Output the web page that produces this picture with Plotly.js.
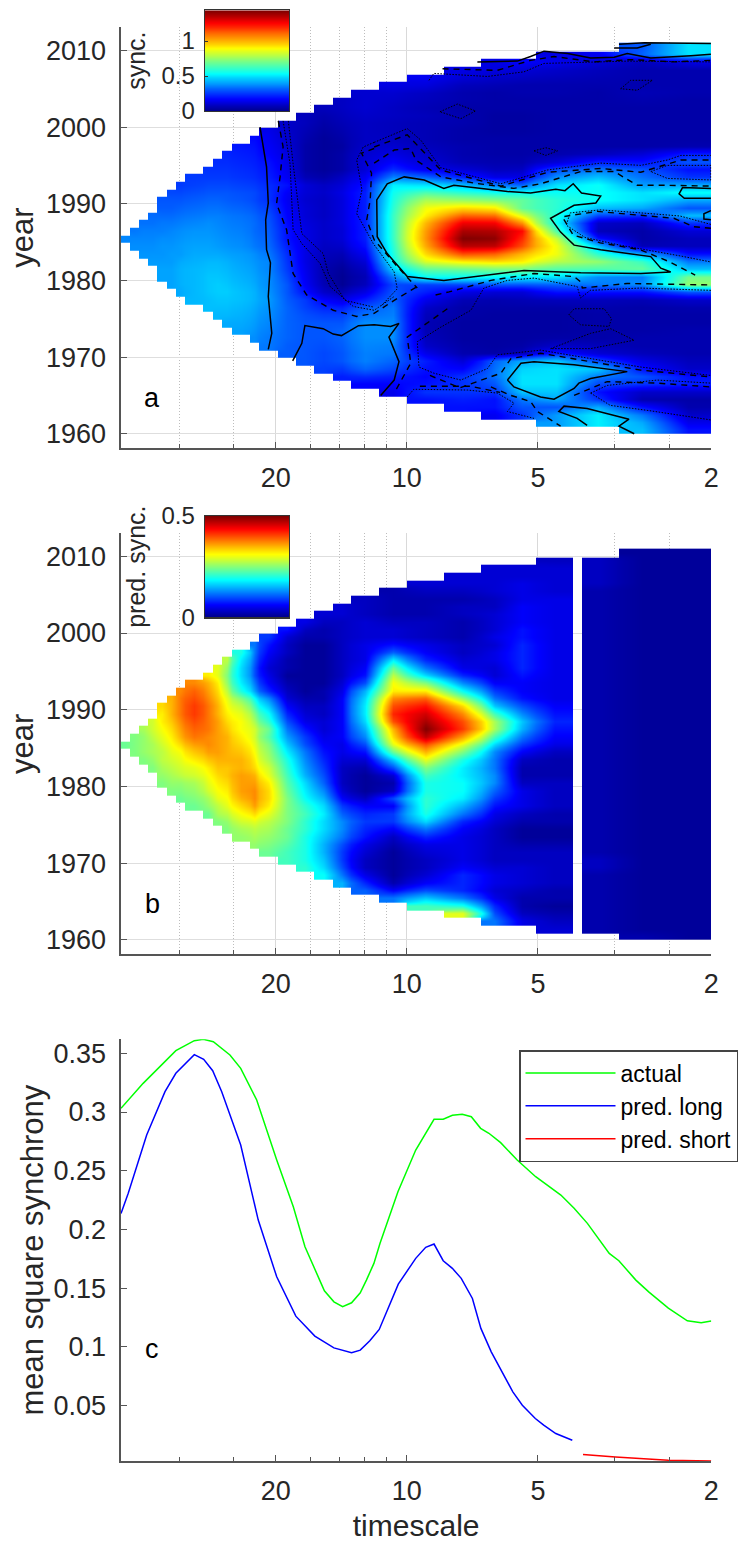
<!DOCTYPE html>
<html><head><meta charset="utf-8">
<script src="https://cdn.plot.ly/plotly-3.0.1.min.js"></script>
<style>html,body{margin:0;padding:0;background:#fff}#chart{width:748px;height:1542px}</style>
</head><body><div id="chart"></div>
<script>
// timescale (years): cell edges of the wavelet grid
const timescaleEdgesA=[45.3,43.2,41.1,39.2,37.4,35.6,33.9,32.3,29.3,27.9,26.5,25.2,22.9,21.8,19.8,17.96,16.31,14.79,13.41,11.59,9.99,8.23,6.77,5.86,5.05,4.07,3.26,2.55,2.0];
const timescaleEdgesB=[45.3,43.2,41.1,39.2,37.4,35.6,33.9,32.3,29.3,27.9,26.5,25.2,22.9,21.8,19.8,17.96,16.31,14.79,13.41,11.59,9.99,8.23,6.77,5.86,5.05,4.15,3.96,3.26,2.55,2.0];
const yearEdges=[];for(let y=1960;y<=2011;y++)yearEdges.push(y);
// synchrony x100, one row per year from 2010 down to 1960, cells listed up to timescale 2
const syncRows=[
[30,50],
[14,16,32,50],
[14,18,15,12,8,14],
[14,13,12,10,8,6,6],
[16,12,10,9,8,7,6,6],
[14,13,8,7,6,6,6,6,6],
[11,11,9,6,5,6,6,5,7,6],
[9,11,10,8,6,5,5,5,5,6,5],
[8,9,11,9,7,5,5,5,5,5,5,5],
[8,6,8,10,9,8,6,4,4,5,5,5,5],
[10,8,5,7,9,8,7,6,4,4,5,5,5,5],
[15,10,7,4,6,9,8,7,5,4,4,5,5,5,5],
[19,16,11,6,3,5,9,9,7,5,5,5,5,5,5,5],
[21,20,17,12,5,3,4,10,11,8,6,5,5,5,5,5,6],
[23,22,21,18,13,5,3,5,11,14,10,6,5,5,6,8,12,22],
[24,24,23,22,20,14,5,3,5,12,18,12,7,6,6,12,22,20,30],
[25,25,25,24,23,21,15,5,3,5,12,24,16,12,8,9,28,35,30,20],
[26,26,26,26,25,24,22,16,7,5,9,16,36,32,22,14,14,38,45,34,25],
[26,27,28,28,28,27,26,24,20,12,9,12,20,52,50,45,35,32,50,55,40,42],
[28,28,29,30,30,30,29,28,25,17,12,10,14,22,56,65,60,56,55,55,55,50,55],
[30,30,30,31,32,32,31,30,28,25,16,11,9,13,22,58,78,75,72,68,60,55,50,42],
[31,31,32,33,34,34,33,32,30,27,17,12,9,13,22,60,88,95,92,68,60,45,42,30],
[33,33,33,34,35,36,36,35,34,32,29,18,12,9,13,22,62,92,112,110,85,58,28,25,45],
[34,34,35,35,36,37,38,37,36,35,33,30,19,13,10,13,22,62,100,128,127,105,55,10,8,25],
[35,36,36,36,37,38,39,39,38,37,36,33,31,20,14,10,12,22,62,104,138,137,125,65,8,5,12],
[37,37,37,37,38,38,39,40,40,39,38,37,34,32,20,14,10,12,22,62,105,144,142,120,82,20,5,8],
[38,38,38,39,39,40,41,41,40,39,38,35,33,22,14,9,10,20,60,102,136,135,115,88,45,7,8],
[39,39,39,40,40,42,42,42,41,40,38,35,24,14,8,7,16,58,95,115,112,100,88,60,42,20],
[40,40,40,42,43,44,44,43,41,39,37,25,14,7,5,12,55,85,92,95,92,80,75,62,35],
[41,41,43,44,45,45,44,42,40,37,26,15,6,3,9,48,68,70,72,72,66,65,68,45],
[41,41,43,44,46,46,45,43,41,38,28,16,6,2,7,36,55,55,54,52,50,38,36,70],
[41,43,44,46,47,46,44,42,38,30,17,7,2,8,28,27,28,30,30,32,35,38,75],
[42,44,46,47,47,45,43,39,30,20,10,6,14,30,22,14,12,12,20,20,20,30],
[44,45,46,46,45,43,40,31,26,18,14,22,32,15,7,6,7,8,8,7,10],
[45,45,45,44,42,39,32,27,23,22,30,35,10,5,5,5,5,6,5,6],
[44,44,43,41,38,32,29,27,27,34,36,8,5,4,4,4,5,5,5],
[42,42,40,37,32,30,30,30,38,38,7,4,4,4,4,5,5,5],
[41,39,36,32,30,30,32,38,38,7,4,4,4,4,5,5,6],
[38,35,32,30,30,32,38,38,8,4,4,4,5,5,6,6],
[35,31,30,29,31,37,36,10,5,4,5,10,8,6,6],
[31,30,28,30,36,35,15,6,5,8,22,12,8,6],
[30,28,30,36,32,22,12,32,42,46,28,14,8],
[27,26,32,28,20,18,34,48,50,46,20,10],
[22,24,22,18,25,34,50,50,35,30,20],
[18,18,20,25,30,50,50,28,25,22],
[15,25,25,25,46,46,20,10,10],
[20,22,20,35,42,25,6,5],
[20,20,30,30,42,20,6],
[16,25,40,52,35,10],
[40,52,42,15],
[45,20]];
// predicted synchrony x100, same layout
const predRows=[
[1,1],
[3,3,1,1],
[4,4,4,3,1,1],
[4,4,4,4,3,1,1],
[4,4,4,5,4,3,1,1],
[2,3,3,4,5,4,2,1,1],
[3,2,2,2,3,5,5,2,1,1],
[4,3,2,2,3,3,6,5,2,1,1],
[4,4,3,2,2,3,4,6,5,2,1,1],
[5,3,3,4,3,3,2,4,6,5,2,1,1],
[7,3,2,3,4,4,3,2,4,7,5,2,1,1],
[9,4,2,2,3,4,4,3,2,5,7,5,2,1,1],
[12,7,3,1,1,3,5,7,5,3,4,8,5,2,1,1],
[20,12,6,3,1,1,3,5,11,6,3,5,8,5,2,1,1],
[28,18,11,5,2,1,1,3,5,18,8,4,5,8,5,2,1,1],
[30,26,17,10,4,2,1,1,3,6,24,12,5,4,8,5,2,1,1],
[32,30,25,17,10,5,1,1,1,3,7,28,17,8,4,7,5,2,1,1],
[37,35,32,26,18,12,6,2,1,1,4,10,31,25,13,6,6,5,2,1,1],
[37,39,36,33,28,20,14,8,3,1,2,5,15,32,32,19,9,6,5,2,1,1],
[35,38,40,37,34,30,25,19,13,4,2,2,6,17,37,39,26,12,7,5,2,1,1],
[33,35,38,41,38,35,31,28,22,16,6,3,3,6,18,40,43,33,16,10,6,2,1,1],
[32,35,38,41,38,35,32,30,25,19,8,4,3,6,18,42,46,37,22,13,7,2,1,1],
[29,32,34,37,40,38,36,33,31,27,21,10,5,4,6,17,40,48,40,27,16,8,2,1,1],
[27,29,31,33,36,39,38,36,34,31,29,24,12,7,4,6,15,35,50,41,27,15,7,2,1,1],
[25,26,28,30,32,35,38,37,36,35,32,29,23,14,9,5,6,13,33,47,36,22,12,6,2,1,1],
[24,25,26,27,29,31,33,36,37,36,35,33,30,25,16,10,6,5,10,30,40,30,17,9,5,2,1,1],
[25,26,27,28,30,31,34,36,36,35,34,31,26,18,12,7,5,7,24,35,25,13,6,3,2,1,1],
[25,26,28,29,30,32,34,35,35,35,32,27,20,13,8,4,4,16,30,20,12,3,2,2,1,1],
[25,27,28,29,30,32,34,34,35,33,29,21,14,9,3,2,10,25,18,12,2,2,2,1,1],
[26,27,28,29,31,33,34,36,35,30,22,15,10,3,1,4,22,18,13,2,2,2,1,1],
[25,26,26,27,30,32,33,36,36,32,23,17,11,3,1,2,20,19,13,3,3,2,1,1],
[25,25,26,29,31,32,36,37,33,24,18,13,4,1,3,20,19,11,5,3,2,1,1],
[24,25,27,30,31,35,37,33,25,19,15,6,3,10,21,18,9,5,3,2,1,1],
[24,26,28,30,33,36,32,25,21,17,9,6,6,21,15,7,5,3,2,1,1],
[24,27,28,31,33,30,25,22,18,11,8,9,20,12,5,3,2,2,1,1],
[25,26,29,30,28,25,21,17,13,9,9,17,8,4,2,2,2,1,1],
[25,27,28,27,24,21,17,13,8,6,12,6,3,1,1,2,1,1],
[26,27,26,24,20,16,12,7,3,8,5,3,1,1,2,1,1],
[26,25,23,20,15,10,5,2,5,5,3,2,2,2,1,1],
[24,22,20,15,9,4,1,4,5,3,3,3,2,1,1],
[22,20,16,9,3,1,3,5,3,3,3,3,1,1],
[21,17,10,3,1,3,6,4,4,3,3,1,1],
[19,12,5,1,4,8,5,4,3,2,1,1],
[15,8,2,6,8,5,4,3,2,1,1],
[11,6,10,8,4,3,2,2,1,1],
[12,16,12,5,2,2,2,1,1],
[22,20,8,2,1,2,1,1],
[30,10,3,2,2,1,1],
[12,5,3,2,1,1],
[4,2,1,1],
[2,1]];
// significance contours: [100*log10(timescale), year]
const contoursSolid=[
[[133.7,2000],[132.2,1994.8],[131.8,1990.1],[132.4,1987.9],[132.2,1984],[131.3,1982.3],[131.8,1977.9],[131,1973.1],[131.8,1971]],
[[126.2,1969.5],[124.1,1971.8],[123.4,1974.1],[119.2,1973.7],[116.9,1973],[115,1972.8],[111.1,1974.1],[107.5,1974.2],[103.7,1974],[101.8,1974.4],[104.1,1972.6],[101.8,1969.4],[102.9,1967],[106,1965]],
[[39.4,1981.1],[46.3,1980.9],[60.1,1981],[73.1,1981.3],[91.5,1980],[99.9,1980.5],[104.5,1983.5],[106.8,1985.7],[106.9,1990.5],[104.5,1992.6],[100.6,1993.5],[96,1993.1],[91.5,1992],[89.2,1992.4],[76.9,1991.6],[71.6,1991.4],[65.8,1991.9],[63.7,1991.7],[61.8,1992.6],[59.9,1991.4],[55.5,1991],[56.6,1990.1],[61.6,1989.8],[67,1988.1],[64.7,1986.3],[61.6,1984.6],[55.5,1984],[44,1983.1],[41.7,1981.6],[39.4,1981.1]],
[[76.9,1967],[73.8,1969.2],[70.8,1969.4],[61.6,1969],[49.4,1968.1],[57.8,1967.2],[60.5,1966.6],[61.6,1965.9],[66.2,1964.5],[69.3,1964.8],[75.4,1966.1],[76.9,1967]],
[[58.6,1961.1],[60.9,1962],[65.1,1962.9],[63.9,1963.6],[58.6,1963.3],[49,1961.9],[51.3,1961],[47.8,1960]],
[[51.3,2010.8],[45.5,2011],[30.2,2010.9]],
[[52.4,2010.3],[47.1,2010.3],[44,2010.8]],
[[30.2,2009.5],[34.8,2009.3],[44,2009],[49.4,2009.6],[52.4,2009.1],[57.8,2009],[63.1,2009.6],[68.5,2009.9],[71.6,2009.2],[74.6,2008.6],[83.8,2008.5]],
[[30.2,1992],[36.7,1992.1],[37.5,1991.3],[36.3,1990.7],[30.2,1990.7]],
[[30.2,1989.1],[31.8,1988.7],[31.8,1988],[30.2,1987.9]]];
const contoursDashed=[
[[129.5,2000.8],[128.4,1997.4],[129.1,1993.5],[129.9,1990],[127.6,1986.6],[126.1,1980.9],[123,1978.1],[116.9,1976.1],[111.5,1975.3],[107.5,1975.7],[102.9,1977.4],[97.6,1979.2]],
[[107.5,1995.3],[102.9,1997],[99.1,1997.2],[97.9,1995.7],[92.2,1993.5],[84.6,1992.7],[75.4,1992],[69.3,1992.6],[60.1,1994.2],[52.4,1994.2],[47.1,1992.4],[40.2,1992.4],[30.2,1992.3]],
[[107.5,1997.4],[99.9,1999],[92.2,1994.4],[78.4,1992.3],[67.7,1994.1],[55.5,1994.6],[46.3,1994.1],[37.1,1995.7],[30.2,1995.7]],
[[91.8,2007.6],[79.2,2007.4],[71.6,2008.7],[66.2,2009.2],[57,2008.5],[48.6,2008.8],[38.7,2008.5],[30.2,2008.7]],
[[30.2,1986.8],[34.1,1987],[38.7,1988.1],[46.3,1988.5],[56.3,1989],[64.3,1988.3],[61.8,1985.9],[55.6,1984.9],[46.4,1984],[39.6,1982.4],[33.8,1980.7]],
[[93.4,1978.1],[90.3,1978.5],[80.7,1980],[70.8,1980.9],[61.6,1980.5],[60.1,1979.8],[59.7,1979],[49.4,1979.6],[30.2,1979.4]],
[[90.7,1976.3],[97.6,1973.5],[99.9,1972.6],[99.1,1969.2],[102.5,1965.7]],
[[94.7,1967.6],[87.8,1966],[78.4,1967.9],[76.1,1969.8],[69.3,1970.5],[57.8,1969.4],[46.3,1968.3],[30.2,1967.4]],
[[61.6,1965],[54,1966.8],[42.5,1966.6],[30.2,1966.1]],
[[80.7,1966.1],[76.1,1965],[71.6,1964.2],[70,1962.9],[64.7,1961]],
[[97,1966.2],[85.5,1966.2],[78.6,1965.4]],
[[107.5,1997.2],[110.4,1996.6],[108.1,1994],[108.4,1990.5],[109.2,1987.9],[107.5,1985.3],[102.2,1981.8],[97.6,1979]]];
const contoursDotted=[
[[107.5,1998],[99.9,1999.8],[96.8,1998.3],[92.2,1994.7],[78.4,1992.6],[67.7,1994.4],[55.5,1995.3],[46.3,1995],[40.2,1995.7],[37.1,1996.3],[30.2,1996.3]],
[[94.9,2006.1],[93.8,2007],[81.5,2006.6],[73.1,2007.2],[68.5,2008.3],[49.4,2008.6],[30.2,2008.5]],
[[30.2,1987.3],[37.3,1988.4],[46.2,1988.8],[55.6,1989.2],[62.5,1988.8],[63.4,1987.2],[59.1,1985.6],[51.1,1984.6],[37.3,1983.2],[30.2,1982.4]],
[[30.2,1978.7],[46.4,1979],[57.9,1978.7],[60.1,1977.7],[60.9,1979.2],[70.8,1980.3],[76.9,1980],[82.3,1979],[85.3,1976.1],[92.2,1973.9],[97.6,1972],[97.2,1968.7],[93.8,1967.9],[87.6,1967],[81.5,1968.5],[79.2,1970.3],[69.3,1970.9],[57.8,1969.8],[46.3,1968.7],[30.2,1967.6]],
[[57.8,1965.3],[54,1966.3],[42.5,1967],[30.2,1966.6]],
[[57.8,1965.3],[53.3,1963.7],[44.2,1963],[30.2,1961.8]],
[[99.9,1964.8],[98.4,1965.8],[86.1,1965.7],[79.2,1965.3],[75.4,1964],[76.9,1962.9],[70.8,1962]],
[[92.4,2002],[88.4,2003],[84.2,2002.1],[87.6,2001.1],[92.4,2002]],
[[70.8,1996.9],[68.1,1997.3],[65.4,1996.9],[68.1,1996.3],[70.8,1996.9]],
[[50.9,2005],[48.6,2006.1],[43.6,2006.1],[47.1,2004.8],[50.9,2005]],
[[44,1994.2],[40.2,1995],[30.2,1995],[30.2,1993.1],[40.2,1993.3],[44,1994.2]],
[[62.8,1975.5],[61.6,1976.3],[54.7,1976.3],[53,1975],[53.6,1974],[60.1,1974.2],[62.8,1975.5]],
[[67,1971.1],[57.8,1973.1],[53.2,1973.7],[47.8,1972.2],[57.8,1971.1],[67,1971.1]],
[[128.4,2000.8],[126.8,1995.2],[126.1,1986.6],[124.1,1984.8],[119.9,1982.2],[117.6,1979.2],[112.3,1976.6],[107.5,1976.1],[102.9,1977.9]],
[[127.2,2000.8],[126.1,1995.2],[124.1,1986.1],[119.2,1983.5],[118,1980.9],[114.2,1977.4],[107.5,1976.5]],
[[107.5,1998],[110,1997.4],[111.5,1995.7],[110.3,1991.8],[111.5,1988.7],[107.7,1984.8],[102.9,1981.1],[102.2,1978.9],[106,1976.6]]];
// mean square synchrony
const actualX=[45.3,40.3,33.9,30.75,29.33,27.81,25.47,24.06,22.11,19.89,18.22,17.13,15.85,15.46,14.7,14.04,13.39,12.79,12.38,11.9,11.52,10.48,9.54,8.66,8.25,7.86,7.46,7.11,6.77,6.48,6.09,5.58,5.06,4.43,4.13,3.85,3.43,3.26,2.98,2.78,2.51,2.27,2.11,2];
const actualY=[.3031,.3244,.3522,.3607,.3619,.3599,.3486,.3372,.3102,.2591,.2193,.1853,.1569,.1478,.1384,.1342,.1376,.1461,.1569,.1711,.1882,.2321,.2676,.2938,.2938,.2972,.298,.296,.2861,.2819,.2739,.2591,.2449,.2293,.218,.2052,.1796,.1734,.1569,.1467,.133,.1222,.1205,.122];
const longX=[45.3,43.6,39.55,35.9,33.9,30.75,29.26,27.9,26.6,24.06,21.93,19.89,17.98,16.26,14.7,13.39,12.79,12.16,11.57,11,10.46,9.54,9.05,8.66,8.25,7.86,7.5,7.07,6.76,6.4,6.08,5.71,5.43,5.07,4.85,4.55,4.17];
const longY=[.2137,.2308,.2804,.3173,.333,.3488,.3449,.3352,.3173,.2719,.208,.1597,.1262,.1092,.0992,.095,.0973,.1052,.1149,.1342,.1535,.1754,.1848,.1876,.1734,.1669,.1584,.1413,.1158,.0958,.0802,.0618,.0504,.0391,.0334,.0263,.0206];
const shortX=[3.94,3.32,2.51,2];
const shortY=[.0084,.0063,.0036,.0029];
// tick labels
const yearTicks=[1960,1970,1980,1990,2000,2010];
const scaleTicks=[20,10,5,2];
const scaleMinorTicks=[33.33,25,16.67,14.29,12.5,11.11,3.33,2.5];
const synchronyTicks=[.05,.1,.15,.2,.25,.3,.35];
const synchronyLabels=['0.05','0.1','0.15','0.2','0.25','0.3','0.35'];
const barLevelsA=[0,.08,.16,.24,.32,.4,.48,.56,.64,.72,.8,.88,.96,1.04,1.12,1.2,1.28,1.36,1.44];
const barLevelsB=[0,.025,.05,.075,.1,.125,.15,.175,.2,.225,.25,.275,.3,.325,.35,.375,.4,.425,.45,.475,.5];

const jet=[[0,'rgb(0,0,135)'],[.125,'rgb(0,0,255)'],[.375,'rgb(0,255,255)'],[.625,'rgb(255,255,0)'],[.875,'rgb(255,0,0)'],[1,'rgb(128,0,0)']];
const W=748,H=1542;
const dx=[121/W,711.3/W];
const dy=(t,b)=>[(H-b)/H,(H-t)/H];
const padded=(rows,n)=>rows.slice().reverse().map(r=>Array(n-r.length).fill(null).concat(r.map(v=>v===null?null:v/100)));
const zA=padded(syncRows,28);
const zB=padded(predRows.map(r=>{const c=r.slice();if(c.length>=4)c.splice(c.length-3,0,null);return c;}),29);

const traces=[
 {type:'heatmap',x:timescaleEdgesA,y:yearEdges,z:zA,xaxis:'x',yaxis:'y',zmin:0,zmax:1.44,colorscale:jet,zsmooth:'best',showscale:false,hoverongaps:false},
 {type:'heatmap',x:timescaleEdgesB,y:yearEdges,z:zB,xaxis:'x2',yaxis:'y2',zmin:0,zmax:.5,colorscale:jet,zsmooth:'best',showscale:false,hoverongaps:false},
 {type:'heatmap',x:[0,1],y:barLevelsA,z:barLevelsA.map(v=>[v,v]),xaxis:'x4',yaxis:'y4',zmin:0,zmax:1.44,colorscale:jet,zsmooth:'best',showscale:false},
 {type:'heatmap',x:[0,1],y:barLevelsB,z:barLevelsB.map(v=>[v,v]),xaxis:'x5',yaxis:'y5',zmin:0,zmax:.5,colorscale:jet,zsmooth:'best',showscale:false}
];
const addContours=(lines,line)=>lines.forEach(p=>traces.push({type:'scatter',mode:'lines',xaxis:'x',yaxis:'y',showlegend:false,hoverinfo:'skip',
  x:p.map(q=>Math.pow(10,q[0]/100)),y:p.map(q=>q[1]),line:line}));
addContours(contoursSolid,{color:'#000',width:1.5});
addContours(contoursDashed,{color:'#000',width:1.4,dash:'6px,5px'});
addContours(contoursDotted,{color:'#000',width:1,dash:'1.5px,1.5px'});
traces.push({type:'scatter',mode:'lines',name:'actual',x:actualX,y:actualY,xaxis:'x3',yaxis:'y3',line:{color:'#00ff00',width:1.5}});
traces.push({type:'scatter',mode:'lines',name:'pred. long',x:longX,y:longY,xaxis:'x3',yaxis:'y3',line:{color:'#0000ff',width:1.5}});
traces.push({type:'scatter',mode:'lines',name:'pred. short',x:shortX,y:shortY,xaxis:'x3',yaxis:'y3',line:{color:'#ff0000',width:1.5},cliponaxis:false});

const FONT='"Liberation Sans",Arial,sans-serif',INK='#262626',AXIS='#555';
const xAxis=(yAnchor,grid,domainTitle)=>({type:'log',domain:dx,anchor:yAnchor,range:[Math.log10(45.3),Math.log10(2)],
  tickmode:'array',tickvals:scaleTicks,ticktext:scaleTicks.map(String),ticks:'inside',ticklen:6,tickcolor:AXIS,tickwidth:1,
  tickfont:{size:27,color:INK,family:FONT},ticklabelstandoff:5,
  showgrid:grid,gridcolor:'#d9d9d9',gridwidth:1,zeroline:false,showline:true,linecolor:AXIS,linewidth:1.6,mirror:false,
  minor:{tickmode:'array',tickvals:scaleMinorTicks,ticks:'inside',ticklen:4,tickcolor:AXIS,tickwidth:1,showgrid:grid,gridcolor:'#bdbdbd',griddash:'1px,2px',gridwidth:1},
  title:domainTitle?{text:domainTitle,font:{size:30,color:INK,family:FONT},standoff:19}:undefined});
const yYear=(xAnchor,dom,r)=>({domain:dom,anchor:xAnchor,range:r,tickmode:'array',tickvals:yearTicks,ticktext:yearTicks.map(String),
  ticks:'inside',ticklen:6,tickcolor:AXIS,tickwidth:1,tickfont:{size:27,color:INK,family:FONT},ticklabelstandoff:8,
  showgrid:true,gridcolor:'#dedede',gridwidth:1,zeroline:false,showline:true,linecolor:AXIS,linewidth:1.6,
  title:{text:'year',font:{size:31,color:INK,family:FONT},standoff:3}});
const barX=(yAnchor)=>({domain:[205/W,289/W],anchor:yAnchor,range:[0,1],showticklabels:false,ticks:'',showgrid:false,zeroline:false,showline:true,linecolor:'#333',linewidth:1.3,mirror:true});
const barY=(xAnchor,dom,r,vals,labs,t)=>({domain:dom,anchor:xAnchor,range:r,tickmode:'array',tickvals:vals,ticktext:labs,ticks:'inside',ticklen:3,tickcolor:'#333',
  tickfont:{size:24,color:INK,family:FONT},ticklabelstandoff:4,showgrid:false,zeroline:false,showline:true,linecolor:'#333',linewidth:1.3,mirror:true,
  title:{text:t,font:{size:25,color:INK,family:FONT},standoff:8}});

const layout={width:W,height:H,margin:{l:0,r:0,t:0,b:0,autoexpand:false},paper_bgcolor:'#fff',plot_bgcolor:'rgba(0,0,0,0)',
  font:{family:FONT,color:INK},
  xaxis:xAxis('y',true),yaxis:yYear('x',dy(27,448.3),[1958.1,2013.05]),
  xaxis2:xAxis('y2',true),yaxis2:yYear('x2',dy(533.3,954.3),[1958.13,2013]),
  xaxis3:xAxis('y3',false,'timescale'),
  yaxis3:{domain:dy(1039.3,1461),anchor:'x3',range:[.0029,.3619],tickmode:'array',tickvals:synchronyTicks,ticktext:synchronyLabels,ticks:'inside',ticklen:6,tickcolor:AXIS,tickwidth:1,
    tickfont:{size:27,color:INK,family:FONT},ticklabelstandoff:8,showgrid:false,zeroline:false,showline:true,linecolor:AXIS,linewidth:1.6,
    title:{text:'mean square synchrony',font:{size:31,color:INK,family:FONT},standoff:0}},
  xaxis4:barX('y4'),yaxis4:barY('x4',dy(10.3,111),[0,1.44],[0,.5,1],['0','0.5','1'],'sync.'),
  xaxis5:barX('y5'),yaxis5:barY('x5',dy(516,617.3),[0,.5],[0,.5],['0','0.5'],'pred. sync.'),
  showlegend:true,
  legend:{x:519/W,xanchor:'left',y:(H-1050)/H,yanchor:'top',bgcolor:'#fff',bordercolor:'#444',borderwidth:1.5,font:{size:23,color:'#000',family:FONT},itemwidth:90,entrywidth:135,entrywidthmode:'pixels',tracegroupgap:0},
  annotations:[['a',398],['b',904],['c',1349]].map(a=>({text:a[0],xref:'paper',yref:'paper',x:152/W,y:(H-a[1])/H,showarrow:false,xanchor:'center',yanchor:'middle',font:{size:27,color:'#000',family:FONT}}))
};
Plotly.newPlot('chart',traces,layout,{displayModeBar:false,staticPlot:true});
</script></body></html>
